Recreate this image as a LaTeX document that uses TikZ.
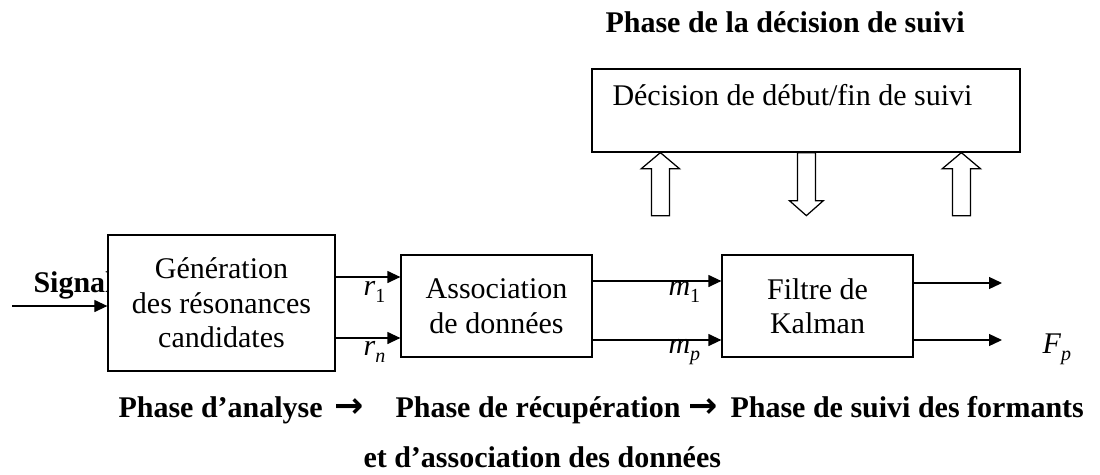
\documentclass[tikz,border=0pt]{standalone}
\usepackage{fontspec}
\setmainfont{Liberation Serif}
\newfontfamily\symfont{DejaVu Sans}
\usetikzlibrary{arrows.meta,calc}
\newcommand{\lowsub}[1]{\raisebox{-3pt}{\fontsize{8}{8}\selectfont #1}}
\tikzstyle{block} = [rectangle, draw, fill=white, line width=0.5pt, align=center,
    inner sep=0pt, font=\fontsize{12}{13.8}\selectfont]
\tikzstyle{line} = [draw, line width=0.5pt, -{Triangle[length=5.2pt,width=4.8pt]}]
\tikzstyle{hollow} = [draw, line width=0.5pt, fill=white]
\tikzstyle{phase} = [font=\fontsize{12}{13.8}\selectfont\bfseries, inner sep=0pt, anchor=base west]
\tikzstyle{lbl} = [font=\fontsize{12}{13.8}\selectfont, inner sep=0pt, anchor=base west]

\begin{document}
\begin{tikzpicture}[x=0.4pt, y=-0.4pt]
    \useasboundingbox (0,0) rectangle (1100,474);
    % Place nodes
    \node [phase] (title) at (605,32) {Phase de la décision de suivi};
    \node [block, minimum width=171.2pt, minimum height=33.2pt] (decision) at (806,110.5) {};
    \node [lbl] (decisiontxt) at (612,105) {Décision de début/fin de suivi};
    \node [phase] (signal) at (33,292) {Signal};
    \node [block, minimum width=90.8pt, minimum height=54.4pt] (gen) at (221.5,303) {Génération\\des résonances\\candidates};
    \node [block, minimum width=76.4pt, minimum height=40.8pt] (assoc) at (496.5,306) {Association\\de données};
    \node [block, minimum width=76.4pt, minimum height=40.8pt] (kalman) at (817.5,306) {Filtre de\\Kalman};
    \node [lbl] (r1) at (363,295) {\textit{r}\lowsub{1}};
    \node [lbl] (rn) at (363,355) {\textit{r}\lowsub{\textit{n}}};
    \node [lbl] (m1) at (668,295) {\textit{m}\lowsub{1}};
    \node [lbl] (mp) at (668,353) {\textit{m}\lowsub{\textit{p}}};
    \node [lbl] (fp) at (1042,353) {\textit{F}\lowsub{\textit{p}}};
    \node [phase] (analyse) at (118,417) {Phase d’analyse};
    \node [phase] (arrA) at (334,417) {\fontsize{14}{14}\symfont →};
    \node [phase] (recup) at (395,417) {Phase de récupération};
    \node [phase] (arrB) at (688,417) {\fontsize{14}{14}\symfont →};
    \node [phase] (suivi) at (730,417) {Phase de suivi des formants};
    \node [phase] (assocdon) at (363,467) {et d’association des données};
    \coordinate (sigin) at (12,306);
    \coordinate (outA) at (1002,283);
    \coordinate (outB) at (1002,340);

    % Draw edges
    \path [line] (sigin) -- (sigin -| gen.west);
    \path [line] (gen.east |- 0,277) -- (assoc.west |- 0,277);
    \path [line] (gen.east |- 0,338) -- (assoc.west |- 0,338);
    \path [line] (assoc.east |- 0,281) -- (kalman.west |- 0,281);
    \path [line] (assoc.east |- 0,340) -- (kalman.west |- 0,340);
    \path [line] (kalman.east |- outA) -- (outA);
    \path [line] (kalman.east |- outB) -- (outB);
    % hollow arrows to and from the decision box
    \foreach \dx in {69,370}
        \draw [hollow] ($(decision.south west)+(\dx,0)$) -- ++(19,16) -- ++(-10,0) -- ++(0,47)
            -- ++(-18,0) -- ++(0,-47) -- ++(-10,0) -- cycle;
    \draw [hollow] ($(decision.south west)+(206,0)$) -- ++(0,48) -- ++(-8,0) -- ++(17,15)
        -- ++(17,-15) -- ++(-8,0) -- ++(0,-48) -- cycle;
\end{tikzpicture}
\end{document}
